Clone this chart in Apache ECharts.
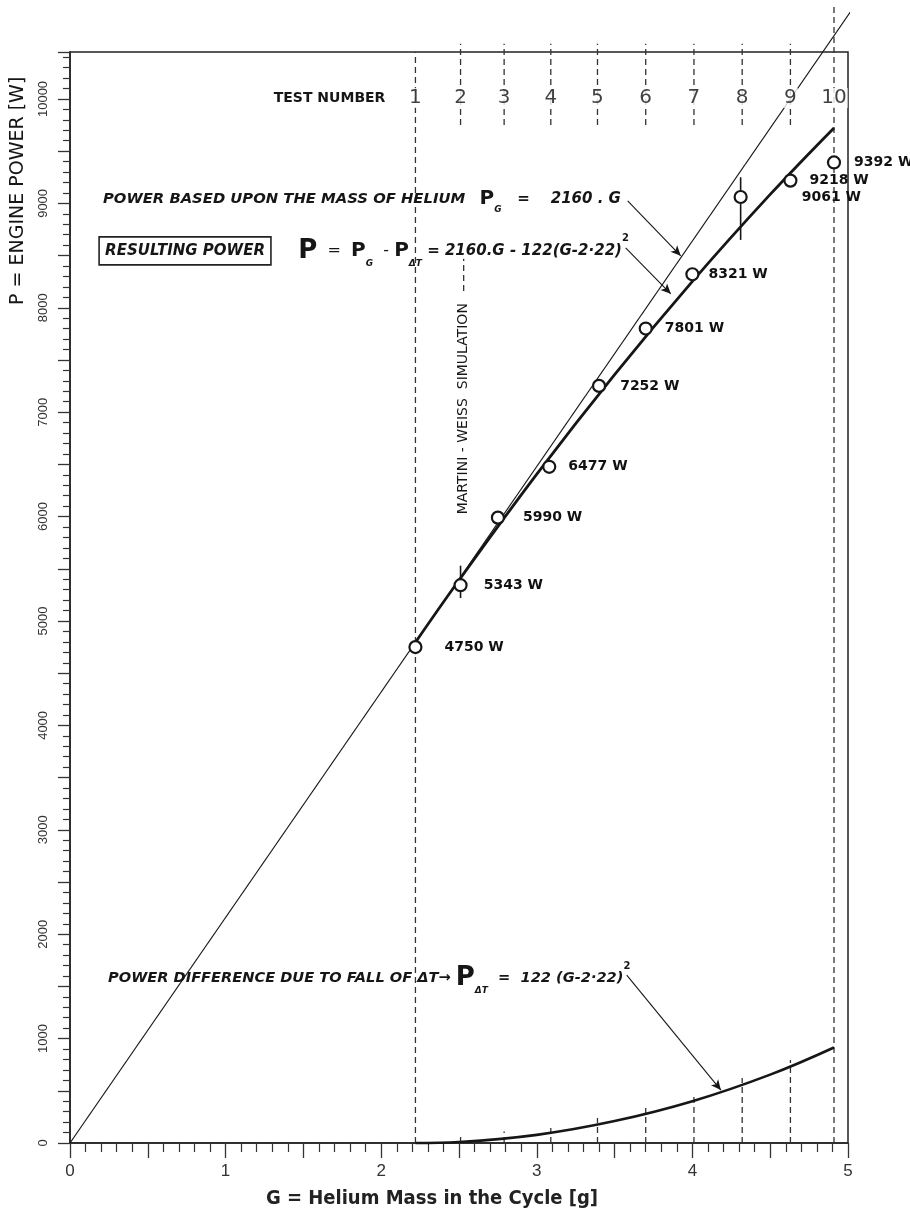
<!DOCTYPE html>
<html><head><meta charset="utf-8">
<script src="https://cdn.jsdelivr.net/npm/echarts@6.0.0/dist/echarts.min.js"></script>
<style>html,body{margin:0;padding:0;background:#fff}#c{width:910px;height:1216px}</style>
</head><body><div id="c"></div>
<script>
// ---------------- data ----------------
const testNumbers = ['1', '2', '3', '4', '5', '6', '7', '8', '9', '10'];
const testG = [2.22, 2.51, 2.79, 3.09, 3.39, 3.70, 4.01, 4.32, 4.63, 4.91];
const pointG = [2.22, 2.51, 2.75, 3.08, 3.40, 3.70, 4.00, 4.31, 4.63, 4.91];
const pointP = [4750, 5343, 5990, 6477, 7252, 7801, 8321, 9061, 9218, 9392];
const heliumG = [0, 5.03];
const heliumP = [0, 10865];
const resultG = [2.22, 2.5, 3.0, 3.5, 4.0, 4.5, 4.91];
const resultP = [4795, 5390, 6406, 7360, 8253, 9086, 9723];
const deltaG = [2.22, 2.5, 3.0, 3.5, 4.0, 4.5, 4.91];
const deltaP = [0, 10, 78, 210, 400, 655, 915];
const bottomDashTop = [null, 60, 110, 144, 239, 335, 478, 622, 794, null];
const errorBarG = [2.51, 4.31];
const errorBarLow = [5220, 8650];
const errorBarHigh = [5530, 9250];
const xTickLabels = [0, 1, 2, 3, 4, 5];
const yTickLabels = [0, 1000, 2000, 3000, 4000, 5000, 6000, 7000, 8000, 9000, 10000];

// ---------------- layout / style ----------------
const ink = '#161616';
const FF = 'DejaVu Sans';
const labelGap = [22, 16, 18, 12, 14, 12, 9, 54, 12, 13];
const xMax = 5, yMax = 10450;

const chart = echarts.init(document.getElementById('c'), null, {renderer: 'canvas'});

function seg(pts, style, extra) {
  return Object.assign({
    type: 'line', data: pts, symbol: 'none', clip: false, silent: true, animation: false,
    lineStyle: Object.assign({color: ink, width: 1.2}, style), z: 2
  }, extra || {});
}
const dash = {type: [6, 4], width: 1.3, color: '#333'};

const series = [];
series.push(seg(heliumG.map((g, i) => [g, heliumP[i]]), {width: 1.2}));
series.push(seg(resultG.map((g, i) => [g, resultP[i]]), {width: 2.8}, {smooth: 0.4, z: 4}));
series.push(seg(deltaG.map((g, i) => [g, deltaP[i]]), {width: 2.6}, {smooth: 0.4, z: 4}));
series.push(seg([[testG[0], 0], [testG[0], yMax]], dash));
series.push(seg([[testG[9], 0], [testG[9], 10890]], dash));
for (let i = 1; i < 9; i++) {
  series.push(seg([[testG[i], 9750], [testG[i], 10530]], dash));
  if (bottomDashTop[i] != null) series.push(seg([[testG[i], 0], [testG[i], bottomDashTop[i]]], dash));
}
errorBarG.forEach((g, i) => series.push(seg([[g, errorBarLow[i]], [g, errorBarHigh[i]]], {width: 1.6})));
series.push(seg([[2.53, 8160], [2.53, 8470]], dash));

series.push({
  type: 'scatter', animation: false, silent: true, z: 6,
  data: pointG.map((g, i) => ({value: [g, pointP[i]], label: {distance: labelGap[i]}})),
  symbol: 'circle', symbolSize: 12,
  itemStyle: {color: '#fff', borderColor: ink, borderWidth: 2.2, opacity: 1},
  label: {show: true, position: 'right', formatter: p => pointP[p.dataIndex] + ' W',
    fontFamily: FF, fontSize: 14, fontWeight: 'bold', color: '#111', opacity: 1}
});
series.push({
  type: 'scatter', animation: false, silent: true, z: 7,
  data: testG.map(g => [g, 10010]), symbolSize: 0,
  label: {show: true, position: 'inside', formatter: p => testNumbers[p.dataIndex],
    fontFamily: FF, fontSize: 20, color: '#111', backgroundColor: '#fff', padding: [0, 1]}
});
const arrows = [
  [3.584, 9024, 3.925, 8498],
  [3.571, 8574, 3.861, 8134],
  [3.578, 1608, 4.183, 507]
];
series.push({
  type: 'line', data: [], silent: true, animation: false,
  markLine: {silent: true, animation: false, symbol: ['none', 'arrow'], symbolSize: [7, 10],
    lineStyle: {color: ink, width: 1.1, type: 'solid'}, label: {show: false},
    data: arrows.map(a => [{coord: [a[0], a[1]]}, {coord: [a[2], a[3]]}])}
});

chart.setOption({
  backgroundColor: '#fff',
  animation: false,
  grid: {left: 70, right: 62, top: 52, bottom: 73, show: true, borderColor: '#222', borderWidth: 1.5, backgroundColor: 'transparent'},
  xAxis: {
    type: 'value', min: 0, max: xMax, interval: 0.5,
    axisLine: {lineStyle: {color: '#222', width: 1.5}},
    axisTick: {length: 15, lineStyle: {color: '#333', width: 1.3}},
    minorTick: {show: true, splitNumber: 5, length: 9, lineStyle: {color: '#333', width: 1.2}},
    splitLine: {show: false},
    axisLabel: {margin: 20, fontFamily: 'Liberation Sans', fontSize: 17, color: '#333',
      formatter: v => xTickLabels.indexOf(v) >= 0 ? String(v) : ''},
    name: 'G = Helium Mass in the Cycle [g]', nameLocation: 'middle', nameGap: 46,
    nameTextStyle: {fontFamily: '"DejaVu Sans Condensed", "Liberation Sans", sans-serif', fontWeight: 'bold', fontSize: 20, color: '#222', padding: [0, 54, 0, 0]}
  },
  yAxis: {
    type: 'value', min: 0, max: yMax, interval: 500,
    axisLine: {lineStyle: {color: '#222', width: 1.5}},
    axisTick: {length: 12, lineStyle: {color: '#333', width: 1.3}},
    minorTick: {show: true, splitNumber: 5, length: 7, lineStyle: {color: '#333', width: 1.2}},
    splitLine: {show: false},
    axisLabel: {rotate: 90, margin: 20, fontFamily: 'Liberation Sans', fontSize: 13, color: '#333',
      formatter: v => yTickLabels.indexOf(v) >= 0 ? String(v) : ''}
  },
  series: series
});

// ---------------- annotations (placed in data coordinates) ----------------
const px = (g, p) => chart.convertToPixel({gridIndex: 0}, [g, p]);
function txt(g, p, style, extra) {
  const [x, y] = px(g, p);
  return Object.assign({type: 'text', x: x, y: y, silent: true, z: 20,
    style: Object.assign({fill: ink, fontFamily: FF, verticalAlign: 'middle', align: 'left'}, style)}, extra || {});
}
const richBase = {
  P: {fontFamily: FF, fontSize: 20, fontWeight: 'bold', fill: ink, lineHeight: 30},
  PB: {fontFamily: FF, fontSize: 26, fontWeight: 'bold', fill: ink, lineHeight: 34},
  s: {fontFamily: FF, fontSize: 9, fontWeight: 'bold', fontStyle: 'italic', fill: ink, verticalAlign: 'bottom'},
  sup: {fontFamily: FF, fontSize: 10, fontWeight: 'bold', fill: ink, verticalAlign: 'top'},
  t: {fontFamily: FF, fontSize: 15, fontWeight: 'bold', fontStyle: 'italic', fill: ink},
  e: {fontFamily: FF, fontSize: 16, fill: ink},
  box: {fontFamily: FF, fontSize: 15, fontWeight: 'bold', fontStyle: 'italic', fill: ink,
    borderColor: '#222', borderWidth: 1.6, padding: [7, 6, 6, 6]}
};

chart.setOption({
  graphic: [
    txt(2.027, 10010, {text: 'TEST NUMBER', fontSize: 14, fontWeight: 'bold', align: 'right'}),
    txt(0.212, 9043, {text: 'POWER BASED UPON THE MASS OF HELIUM', fontSize: 14.8, fontWeight: 'bold', fontStyle: 'italic'}),
    txt(2.632, 9043, {text: '{P|P}{s|G}{t|   =    2160 . G}', rich: richBase}),
    txt(0.187, 8545, {text: '{box|RESULTING POWER}', rich: richBase}),
    txt(1.467, 8545, {text: '{PB|P}{e|  =  }{P|P}{s|G}{e|  - }{P|P}{s|ΔT}{t| = 2160.G - 122(G-2·22)}{sup|2}', rich: richBase}),
    txt(0.245, 1579, {text: '{t|POWER DIFFERENCE DUE TO FALL OF ΔT→ }{PB|P}{s|ΔT}{t|  =  122 (G-2·22)}{sup|2}',
      rich: Object.assign({}, richBase, {t: Object.assign({}, richBase.t, {fontSize: 14.6})})}),
    txt(2.529, 7033, {text: 'MARTINI - WEISS  SIMULATION', fontSize: 14, align: 'center'}, {rotation: Math.PI / 2}),
    txt(-0.335, 9120, {text: 'P = ENGINE POWER [W]', fontSize: 19, align: 'center'}, {rotation: Math.PI / 2})
  ]
});
</script>
</body></html>
